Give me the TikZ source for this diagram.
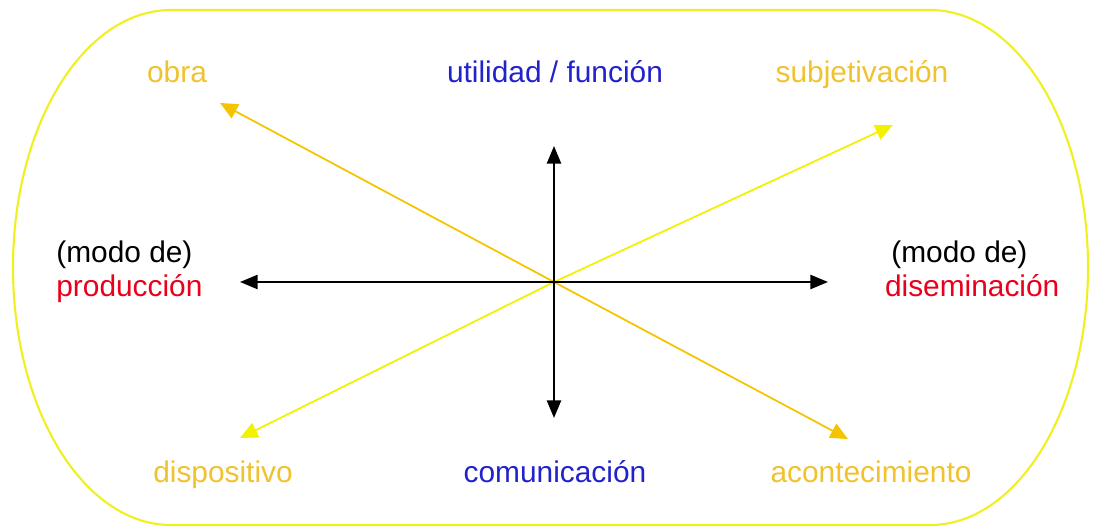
\documentclass[tikz,border=0pt]{standalone}
\usepackage{fontspec}
\setmainfont{Liberation Sans}
\usetikzlibrary{arrows.meta}
\definecolor{rimyellow}{HTML}{F0F020}
\definecolor{axgold}{HTML}{F5C400}
\definecolor{axyellow}{HTML}{F2F200}
\definecolor{txtgold}{HTML}{F0C22E}
\definecolor{txtblue}{HTML}{2222CC}
\definecolor{txtred}{HTML}{E8001C}

\begin{document}
\begin{tikzpicture}[x=0.02cm, y=0.02cm,
      lbl/.style={anchor=base, inner sep=0pt, font=\fontsize{17}{19.5}\selectfont},
      gold/.style={lbl, text=txtgold},
      blue/.style={lbl, text=txtblue},
      mode/.style={lbl, align=left, anchor=base west},
      rim/.style={rimyellow, line width=1.2pt},
      arr/.style={-{Triangle[length=10pt, width=8pt]}, black, line width=1.2pt},
      garr/.style={-{Triangle[length=10pt, width=9pt]}, axgold, line width=1pt},
      yarr/.style={-{Triangle[length=10pt, width=9pt]}, axyellow, line width=1pt}]
    \useasboundingbox (0,0) rectangle (1093,528);
    % outer rim
    \draw[rim] (171,518) -- (930,518)
      arc[start angle=90, end angle=-90, x radius=158, y radius=257.5]
      -- (171,3)
      arc[start angle=270, end angle=90, x radius=158, y radius=257.5] -- cycle;

    \coordinate (o) at (554,246);
    \coordinate (pw) at (240,246);
    \coordinate (pe) at (828,246);
    \coordinate (pn) at (554,382);
    \coordinate (ps) at (554,110);
    \coordinate (pnw) at (220,425);
    \coordinate (pse) at (848,89);
    \coordinate (pne) at (893,403);
    \coordinate (psw) at (240,90);

    \node[gold] (obra) at (177,445) {obra};
    \node[blue] (util) at (555,445) {utilidad / función};
    \node[gold] (subj) at (862,445) {subjetivación};
    \node[gold] (disp) at (223,46) {dispositivo};
    \node[blue] (comu) at (555,46) {comunicación};
    \node[gold] (acon) at (871,46) {acontecimiento};
    \node[mode] (prod) at (56,231) {(modo de)\\\textcolor{txtred}{producción}};
    \node[mode] (dise) at (891,231) {(modo de)\\[0pt]\hspace*{-9\pgflinewidth}\textcolor{txtred}{diseminación}};

    \draw[garr] (o) -- (pnw); \draw[garr] (o) -- (pse);
    \draw[yarr] (o) -- (pne); \draw[yarr] (o) -- (psw);
    \draw[arr] (o) -- (pw); \draw[arr] (o) -- (pe);
    \draw[arr] (o) -- (pn); \draw[arr] (o) -- (ps);
  \end{tikzpicture}
\end{document}
